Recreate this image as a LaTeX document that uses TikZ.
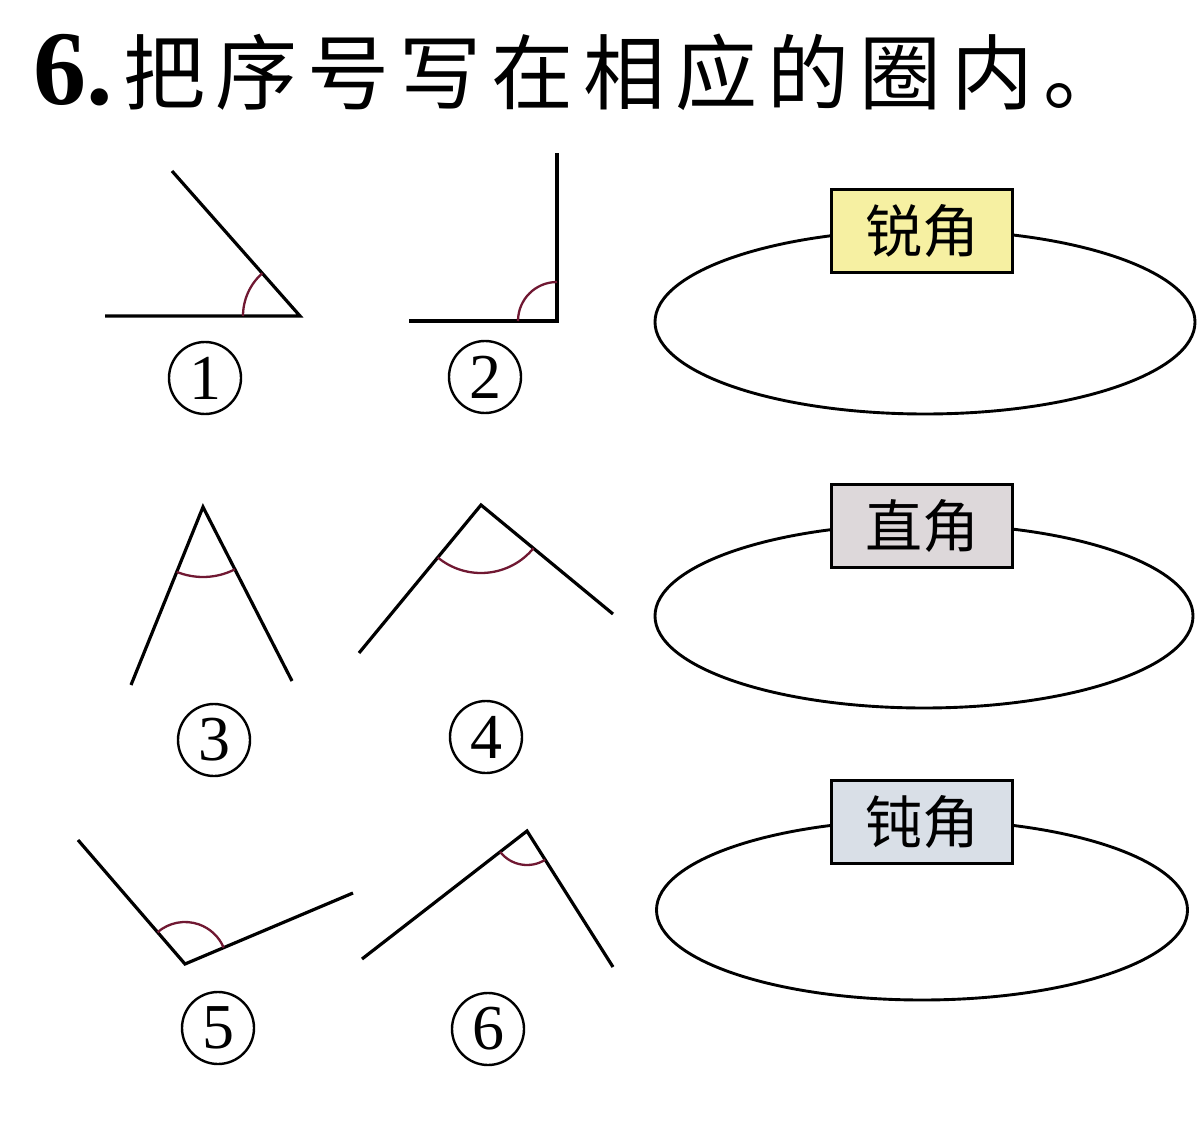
\documentclass[tikz,border=0pt]{standalone}
\usepackage{fontspec}
\setmainfont{Liberation Serif}
\newfontfamily\cjk{Noto Sans CJK SC}
\usetikzlibrary{shapes.geometric}
\definecolor{arccol}{HTML}{701832}
\definecolor{yelfill}{HTML}{F6F0A2}
\definecolor{grayfill}{HTML}{DDD8DA}
\definecolor{bluefill}{HTML}{D9DFE7}
\newcommand\tsp{\kern 10pt}
\tikzset{
  ray/.style={line width=3.2pt, line cap=butt, line join=miter},
  anglearc/.style={line width=2.3pt, draw=arccol},
  numlabel/.style={circle, draw, line width=2.4pt, minimum size=72pt, inner sep=0pt,
    font=\fontsize{64}{64}\selectfont},
  ring/.style={ellipse, draw, line width=2.9pt, inner sep=0pt},
  labelbox/.style={draw, line width=3.1pt, minimum width=181pt, minimum height=83pt,
    inner sep=0pt, font=\cjk\fontsize{57}{57}\selectfont},
}
\begin{document}
\begin{tikzpicture}[x=1pt,y=-1pt]
\useasboundingbox (0,0) rectangle (1200,1147);
\fill[white] (0,0) rectangle (1200,1147);

% title
\node[anchor=west, inner sep=0pt, font=\bfseries\fontsize{106}{106}\selectfont] (tnum) at (33,70) {6.};
\node[anchor=west, inner sep=0pt, font=\cjk\fontsize{82}{82}\selectfont] (ttext) at (123,72)
  {把\tsp 序\tsp 号\tsp 写\tsp 在\tsp 相\tsp 应\tsp 的\tsp 圈\tsp 内\tsp 。};

% angle 1
\coordinate (v1) at (300,316);
\coordinate (a1) at (105,316);
\coordinate (b1) at (172,171);
\draw[ray] (a1) -- (v1) -- (b1);
\draw[anglearc] (v1) ++(180:57) arc[start angle=180, end angle=228.6, radius=57];
\node[numlabel] (n1) at (205,378) {1};

% angle 2
\coordinate (v2) at (557,321);
\coordinate (a2) at (409,321);
\coordinate (b2) at (557,153);
\draw[ray] (a2) -- (v2) -- (b2);
\draw[anglearc] (v2) ++(180:39) arc[start angle=180, end angle=270, radius=39];
\node[numlabel] (n2) at (485,377) {2};

% angle 3
\coordinate (v3) at (203,507);
\coordinate (a3) at (131,685);
\coordinate (b3) at (292,681);
\draw[ray] (a3) -- (v3) -- (b3);
\draw[anglearc] (v3) ++(62.9:70) arc[start angle=62.9, end angle=112, radius=70];
\node[numlabel] (n3) at (214,740) {3};

% angle 4
\coordinate (v4) at (481,505);
\coordinate (a4) at (359,653);
\coordinate (b4) at (613,614);
\draw[ray] (a4) -- (v4) -- (b4);
\draw[anglearc] (v4) ++(39.5:68) arc[start angle=39.5, end angle=129.5, radius=68];
\node[numlabel] (n4) at (486,737) {4};

% angle 5
\coordinate (v5) at (185,964);
\coordinate (a5) at (78,840);
\coordinate (b5) at (353,893);
\draw[ray] (a5) -- (v5) -- (b5);
\draw[anglearc] (v5) ++(229.2:42) arc[start angle=229.2, end angle=337.1, radius=42];
\node[numlabel] (n5) at (218,1028) {5};

% angle 6
\coordinate (v6) at (527,831);
\coordinate (a6) at (362,959);
\coordinate (b6) at (613,967);
\draw[ray] (a6) -- (v6) -- (b6);
\draw[anglearc] (v6) ++(57.7:34) arc[start angle=57.7, end angle=142.2, radius=34];
\node[numlabel] (n6) at (488,1029) {6};

% rings with labels
\node[ring, minimum width=540pt, minimum height=184pt] (e1) at (925,322) {};
\node[labelbox, fill=yelfill] (l1) at (922,231) {锐角};

\node[ring, minimum width=538pt, minimum height=184pt] (e2) at (924,616) {};
\node[labelbox, fill=grayfill] (l2) at (922,526) {直角};

\node[ring, minimum width=531pt, minimum height=180pt] (e3) at (922,910) {};
\node[labelbox, fill=bluefill] (l3) at (922,822) {钝角};
\end{tikzpicture}
\end{document}
